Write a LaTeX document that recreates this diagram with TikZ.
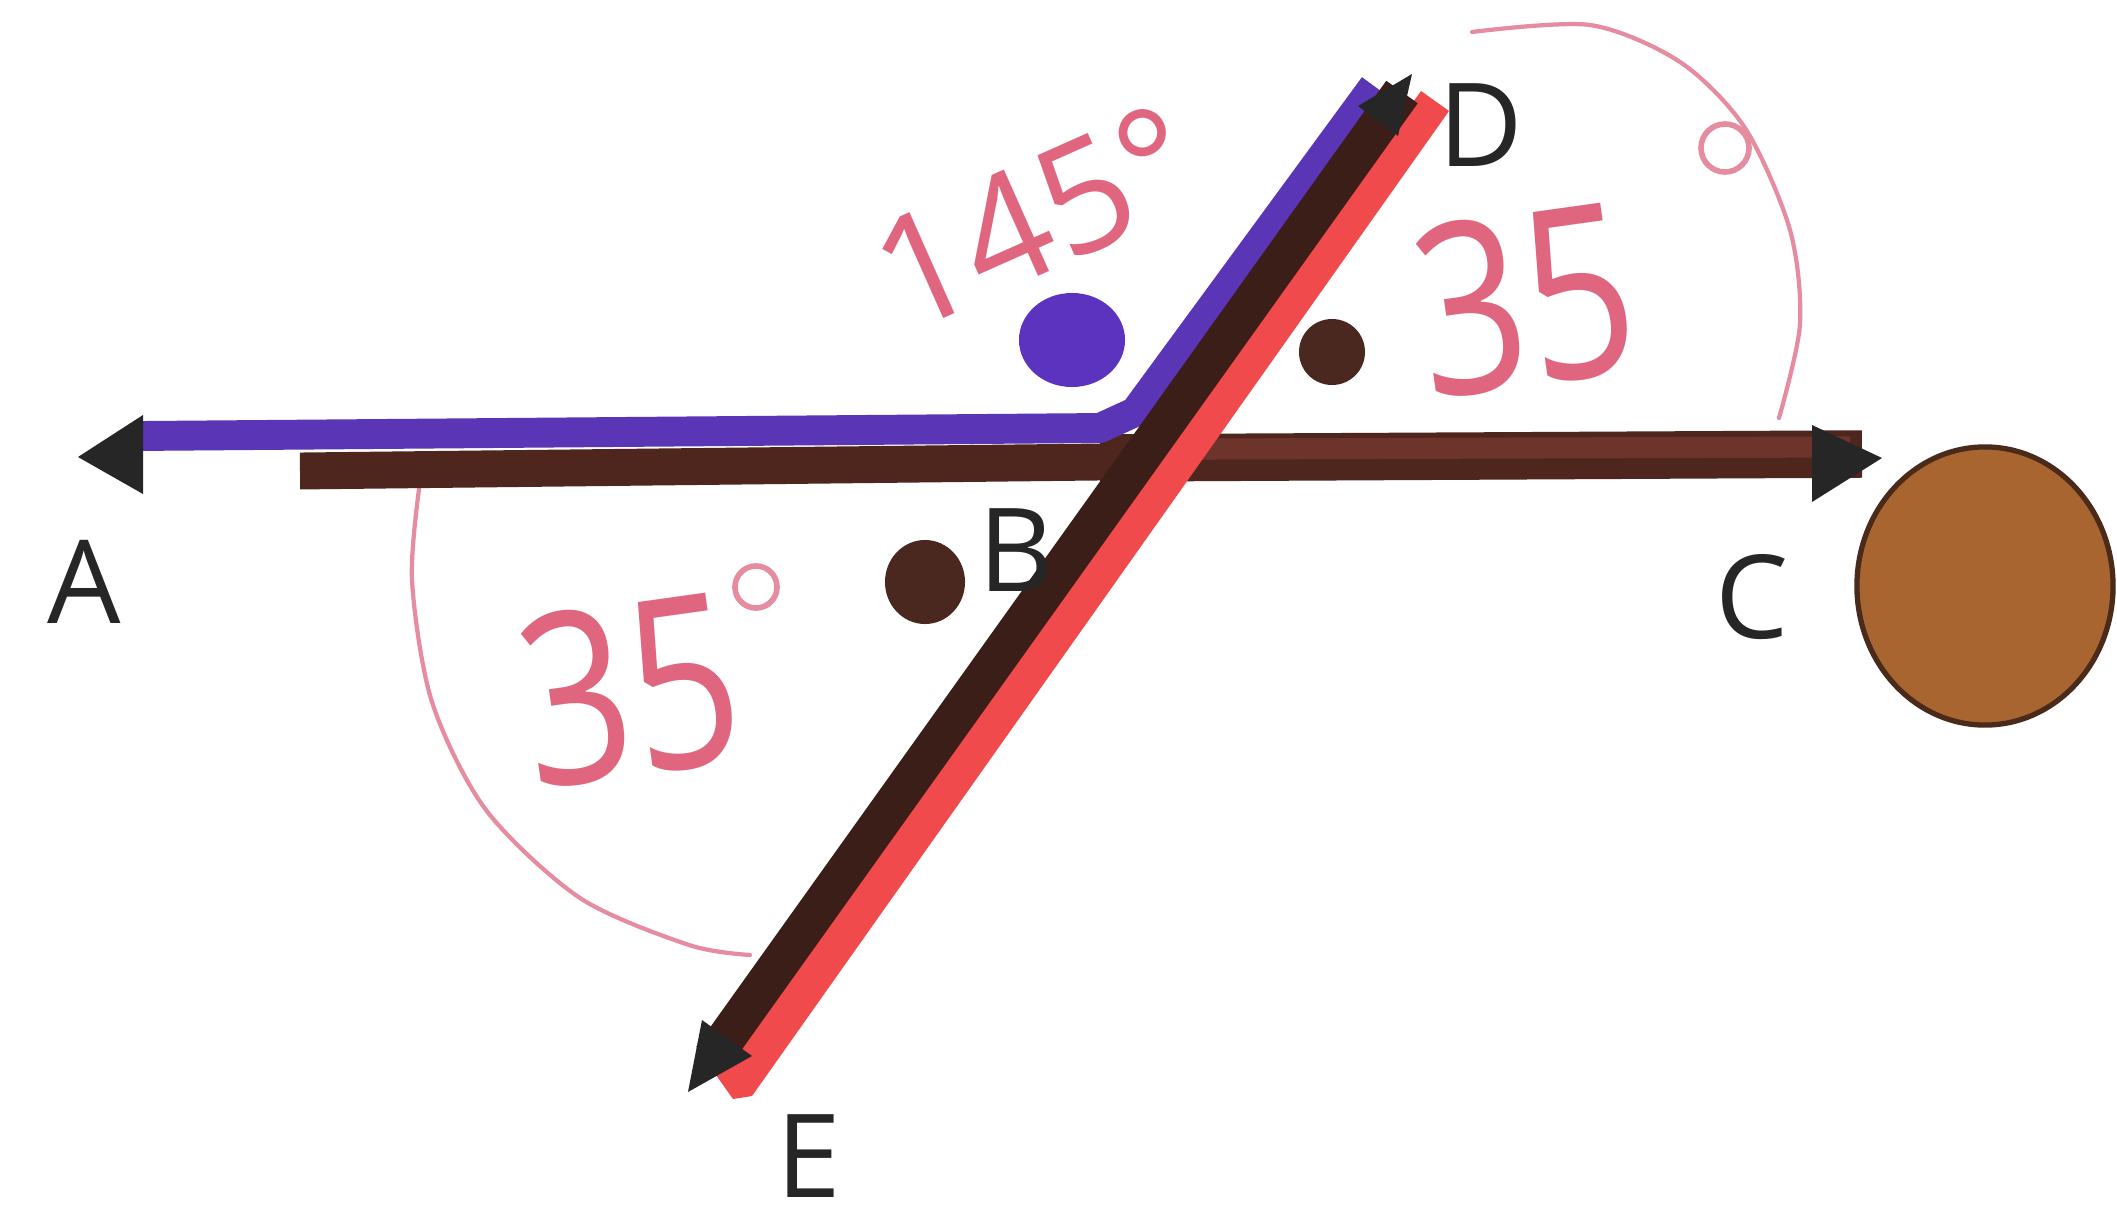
\documentclass[tikz,border=0pt]{standalone}
\usepackage{fontspec}
\setmainfont{Open Sans}
\definecolor{purpleline}{HTML}{5A35B5}
\definecolor{darkline}{HTML}{3C1E18}
\definecolor{brownline}{HTML}{4E261E}
\definecolor{brownred}{HTML}{7A3A30}
\definecolor{redline}{HTML}{F04A4C}
\definecolor{pinktext}{HTML}{E0657F}
\definecolor{pinkarc}{HTML}{E58CA0}
\definecolor{circfill}{HTML}{A8652F}
\definecolor{circedge}{HTML}{4A2A1A}
\definecolor{dotbrown}{HTML}{4A2820}
\definecolor{dotpurple}{HTML}{5B33BE}
\begin{document}
\begin{tikzpicture}[x=0.01cm,y=-0.01cm,
  lbl/.style={font=\fontsize{33}{33}\selectfont, text=black!85, inner sep=0},
  pinknum/.style={font=\fontsize{68}{68}\selectfont, text=pinktext, inner sep=0},
  pinkarcline/.style={draw=pinkarc, line width=1.2pt, line cap=round},
  tiphead/.style={fill=black!85}]
\useasboundingbox (0,0) rectangle (2117,1206);
\fill[white] (0,0) rectangle (2117,1206);

% named points
\coordinate (A) at (78,457);
\coordinate (C) at (1882,458);
\coordinate (B) at (1160,445);
\coordinate (D) at (1412,74);
\coordinate (E) at (688,1092);

% pink arcs
\draw[pinkarcline] plot[smooth] coordinates {(1472,32) (1590,25) (1680,62) (1745,128) (1790,230) (1800,324) (1779,418)};
\draw[pinkarcline] plot[smooth] coordinates {(420,482) (412,580) (432,702) (486,810) (580,898) (689,945) (750,955)};

% horizontal line (brown part)
\draw[brownline, line width=10.5pt] (300,471) -- (1100,462);
\draw[brownline, line width=13.5pt] (1100,458) -- (1862,454);
\draw[brownred, line width=6pt, opacity=0.7] (1200,449) -- (1850,447);

% purple path
\draw[purpleline, line width=8.5pt, line join=round] (140,436) -- (1100,428) -- (1135,412) -- (1374,86);

% diagonal lines
\fill[redline] (1421,91) -- (1449,111) -- (752,1096) -- (733,1099) -- (716,1075) -- cycle;
\draw[darkline, line width=11pt] (712,1058) -- (1402,92);

% arrowheads
\fill[tiphead] (A) -- (143,415) -- (143,494) -- cycle;
\fill[tiphead] (C) -- (1812,425) -- (1812,502) -- cycle;
\fill[tiphead] (D) -- (1398,136) -- (1358,106) -- cycle;
\fill[tiphead] (E) -- (752,1056) -- (702,1020) -- cycle;

% dots
\fill[dotpurple] (1072,340) ellipse [x radius=0.53cm, y radius=0.47cm];
\fill[dotbrown] (1332,352) circle [radius=0.33cm];
\fill[dotbrown] (925,582) ellipse [x radius=0.40cm, y radius=0.42cm];

% brown circle
\filldraw[fill=circfill, draw=circedge, line width=1.5pt] (1985,586) ellipse [x radius=1.28cm, y radius=1.39cm];

% labels
\node[lbl] (lA) at (84,582) {A};
\node[lbl] (lB) at (1016,550) {B};
\node[lbl] (lC) at (1752,597) {C};
\node[lbl] (lD) at (1481,125) {D};
\node[lbl] (lE) at (809,1156) {E};

% pink angle texts
\node[pinknum, font=\fontsize{44}{44}\selectfont, rotate=24] (t145) at (1035,218) {145°};
\node[pinknum, rotate=8, xscale=0.8] (t35r) at (1525,300) {35};
\draw[pinkarcline, line width=1.6pt] (1725,148) circle [radius=0.24cm];
\node[pinknum, rotate=8, xscale=0.8] (t35l) at (630,690) {35};
\draw[pinkarcline, line width=1.6pt] (756,587) circle [radius=0.21cm];
\end{tikzpicture}
\end{document}
